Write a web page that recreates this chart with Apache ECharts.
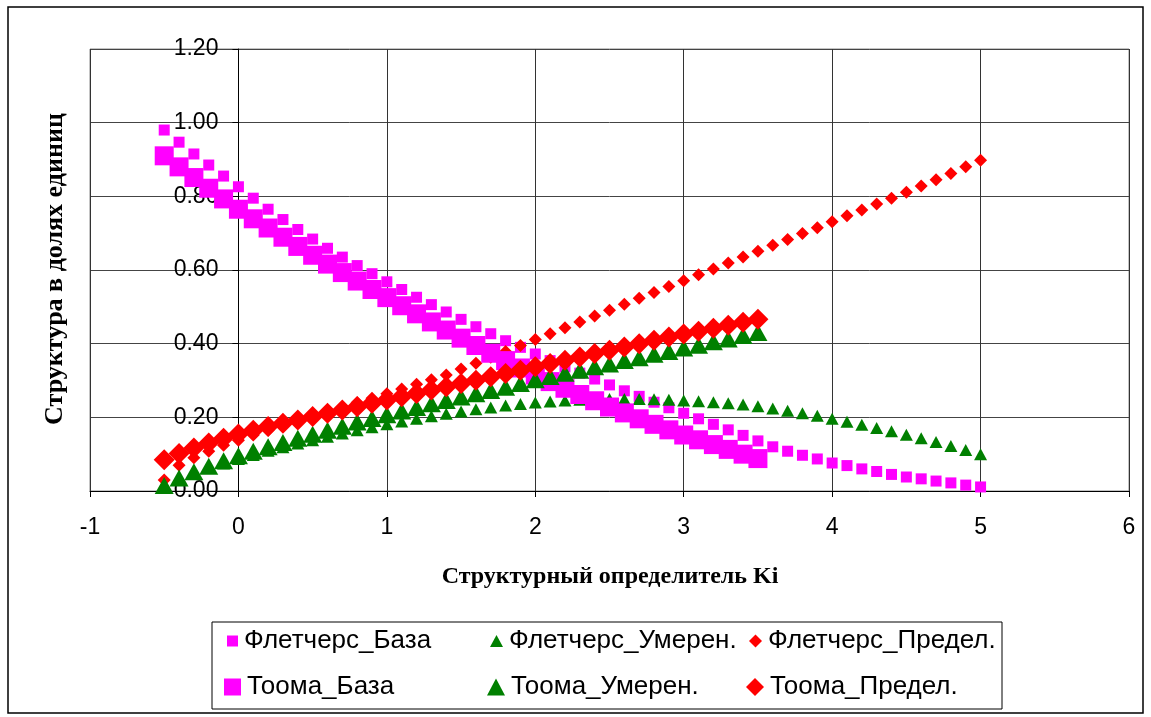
<!DOCTYPE html>
<html>
<head>
<meta charset="utf-8">
<script src="https://cdn.jsdelivr.net/npm/echarts@6/dist/echarts.min.js"></script>
<style>
  html, body { margin: 0; padding: 0; background: #fff; }
  #chart { width: 1151px; height: 717px; }
</style>
</head>
<body>
<div id="chart"></div>
<script>
// Ki values (x)
const kiFletcher = [-0.5, -0.4, -0.3, -0.2, -0.1, 0.0, 0.1, 0.2, 0.3, 0.4, 0.5, 0.6, 0.7, 0.8, 0.9,
  1.0, 1.1, 1.2, 1.3, 1.4, 1.5, 1.6, 1.7, 1.8, 1.9, 2.0, 2.1, 2.2, 2.3, 2.4, 2.5, 2.6, 2.7, 2.8, 2.9,
  3.0, 3.1, 3.2, 3.3, 3.4, 3.5, 3.6, 3.7, 3.8, 3.9, 4.0, 4.1, 4.2, 4.3, 4.4, 4.5, 4.6, 4.7, 4.8, 4.9, 5.0]
const kiTooma = [-0.5, -0.4, -0.3, -0.2, -0.1, 0.0, 0.1, 0.2, 0.3, 0.4, 0.5, 0.6, 0.7, 0.8, 0.9,
  1.0, 1.1, 1.2, 1.3, 1.4, 1.5, 1.6, 1.7, 1.8, 1.9, 2.0, 2.1, 2.2, 2.3, 2.4, 2.5, 2.6, 2.7, 2.8, 2.9,
  3.0, 3.1, 3.2, 3.3, 3.4, 3.5]

// Флетчерс
const fletcherBase = [0.980, 0.947, 0.915, 0.885, 0.855, 0.826, 0.795, 0.765, 0.737, 0.710, 0.684, 0.659, 0.635, 0.612, 0.590,
  0.568, 0.547, 0.526, 0.506, 0.486, 0.466, 0.446, 0.427, 0.408, 0.390, 0.372, 0.354, 0.337, 0.320, 0.304,
  0.288, 0.272, 0.257, 0.241, 0.226, 0.211, 0.196, 0.181, 0.166, 0.151, 0.136, 0.120, 0.108, 0.097, 0.087,
  0.076, 0.069, 0.060, 0.053, 0.045, 0.038, 0.033, 0.027, 0.022, 0.016, 0.011]
const fletcherModerate = [0.020, 0.036, 0.050, 0.063, 0.075, 0.087, 0.098, 0.109, 0.119, 0.129, 0.138, 0.147, 0.156, 0.165, 0.173,
  0.181, 0.189, 0.196, 0.203, 0.210, 0.216, 0.222, 0.227, 0.232, 0.236, 0.240, 0.243, 0.246, 0.248, 0.249,
  0.250, 0.250, 0.250, 0.249, 0.248, 0.246, 0.244, 0.241, 0.238, 0.235, 0.230, 0.224, 0.218, 0.211, 0.204,
  0.196, 0.188, 0.180, 0.171, 0.162, 0.153, 0.143, 0.133, 0.122, 0.111, 0.100]
const fletcherLimit = [0.030, 0.070, 0.090, 0.108, 0.124, 0.138, 0.152, 0.165, 0.178, 0.191, 0.204, 0.216, 0.228, 0.240, 0.252,
  0.264, 0.277, 0.290, 0.302, 0.315, 0.331, 0.347, 0.363, 0.379, 0.395, 0.411, 0.427, 0.443, 0.459, 0.475,
  0.491, 0.507, 0.523, 0.539, 0.555, 0.571, 0.587, 0.603, 0.619, 0.635, 0.651, 0.667, 0.683, 0.699, 0.715,
  0.731, 0.747, 0.763, 0.779, 0.795, 0.811, 0.828, 0.845, 0.862, 0.880, 0.898]

// Тоома
const toomaBase = [0.910, 0.880, 0.851, 0.822, 0.793, 0.765, 0.739, 0.714, 0.689, 0.664, 0.640, 0.616, 0.593, 0.570, 0.547,
  0.525, 0.503, 0.481, 0.459, 0.437, 0.415, 0.395, 0.374, 0.354, 0.334, 0.315, 0.297, 0.279, 0.262, 0.245,
  0.228, 0.212, 0.196, 0.181, 0.166, 0.152, 0.139, 0.126, 0.113, 0.100, 0.088]
const toomaModerate = [0.015, 0.035, 0.052, 0.067, 0.082, 0.096, 0.108, 0.120, 0.132, 0.143, 0.154, 0.165, 0.176, 0.187, 0.197,
  0.207, 0.217, 0.227, 0.237, 0.246, 0.255, 0.264, 0.273, 0.282, 0.292, 0.302, 0.311, 0.320, 0.328, 0.337,
  0.345, 0.354, 0.362, 0.371, 0.379, 0.388, 0.396, 0.405, 0.413, 0.422, 0.430]
const toomaLimit = [0.085, 0.102, 0.117, 0.130, 0.143, 0.155, 0.165, 0.175, 0.184, 0.193, 0.202, 0.211, 0.220, 0.229, 0.238,
  0.247, 0.256, 0.265, 0.274, 0.283, 0.292, 0.301, 0.310, 0.319, 0.328, 0.337, 0.346, 0.355, 0.364, 0.373,
  0.382, 0.391, 0.400, 0.409, 0.418, 0.426, 0.434, 0.442, 0.450, 0.458, 0.466]

const seriesNames = ['Флетчерс_База', 'Флетчерс_Умерен.', 'Флетчерс_Предел.', 'Тоома_База', 'Тоома_Умерен.', 'Тоома_Предел.']

const MAGENTA = '#ff00ff'
const GREEN = '#008000'
const RED = '#ff0000'
const FONT = "'Liberation Sans', Arial, sans-serif"
const SERIF = "'Liberation Serif', 'Times New Roman', serif"

// plot area, px
const GRID_LEFT = 90
const GRID_RIGHT = 22
const X_MIN = -1
const X_MAX = 6
const plotWidth = 1151 - GRID_LEFT - GRID_RIGHT

const pairs = (xs, ys) => xs.map((x, i) => [x, ys[i]])

const chart = echarts.init(document.getElementById('chart'))

const makeSeries = (name, xs, ys, symbol, size, color) => ({
  name,
  type: 'scatter',
  symbol,
  symbolSize: size,
  data: pairs(xs, ys),
  itemStyle: { color, opacity: 1 },
  emphasis: { disabled: true }
})

const legendItem = (name, left, top, icon, w, h) => ({
  data: [name],
  left,
  top,
  icon,
  itemWidth: w,
  itemHeight: h,
  selectedMode: false,
  padding: 0,
  textStyle: { fontFamily: FONT, fontSize: 26, color: '#000', lineHeight: 30, padding: [0, 0, 0, 1] }
})

const option = {
  animation: false,
  backgroundColor: '#fff',
  grid: {
    left: GRID_LEFT,
    right: GRID_RIGHT,
    top: 49,
    bottom: 226,
    show: true,
    borderColor: '#888',
    borderWidth: 1
  },
  xAxis: {
    type: 'value',
    min: X_MIN,
    max: X_MAX,
    interval: 1,
    axisLine: { onZero: false, lineStyle: { color: '#000', width: 1 } },
    axisTick: { show: true, length: 6, lineStyle: { color: '#000' } },
    axisLabel: { color: '#000', fontFamily: FONT, fontSize: 23, margin: 25 },
    splitLine: { show: true, lineStyle: { color: '#333', width: 1 } }
  },
  yAxis: {
    type: 'value',
    min: 0,
    max: 1.2,
    interval: 0.2,
    // y axis crosses the x axis at Ki = 0
    offset: -plotWidth * (0 - X_MIN) / (X_MAX - X_MIN),
    axisLine: { onZero: false, lineStyle: { color: '#000', width: 1 } },
    axisTick: { show: true, length: 6, lineStyle: { color: '#000' } },
    axisLabel: {
      color: '#000', fontFamily: FONT, fontSize: 23, margin: 20,
      formatter: v => v.toFixed(2)
    },
    splitLine: { show: true, lineStyle: { color: '#444', width: 1 } }
  },
  legend: [
    legendItem(seriesNames[0], 227, 626, 'rect', 11, 11),
    legendItem(seriesNames[1], 490, 626, 'triangle', 13, 12),
    legendItem(seriesNames[2], 749, 626, 'diamond', 13, 13),
    legendItem(seriesNames[3], 224, 672, 'rect', 17, 17),
    legendItem(seriesNames[4], 487, 672, 'triangle', 18, 17),
    legendItem(seriesNames[5], 746, 672, 'diamond', 18, 18)
  ],
  graphic: [
    {
      type: 'rect',
      shape: { x: 8, y: 7, width: 1135, height: 706 },
      style: { fill: 'none', stroke: '#000', lineWidth: 1.5 },
      silent: true
    },
    {
      type: 'rect',
      shape: { x: 212, y: 622, width: 790, height: 87 },
      style: { fill: 'none', stroke: '#000', lineWidth: 1 },
      silent: true
    },
    {
      type: 'text',
      x: 55,
      y: 269,
      rotation: Math.PI / 2,
      style: {
        text: 'Структура в долях единиц',
        font: 'bold 26px ' + SERIF,
        fill: '#000',
        align: 'center',
        verticalAlign: 'middle'
      },
      silent: true
    },
    {
      type: 'text',
      x: 610,
      y: 577,
      style: {
        text: 'Структурный определитель Ki',
        font: 'bold 24px ' + SERIF,
        fill: '#000',
        align: 'center',
        verticalAlign: 'middle'
      },
      silent: true
    }
  ],
  series: [
    makeSeries(seriesNames[0], kiFletcher, fletcherBase, 'rect', 11, MAGENTA),
    makeSeries(seriesNames[1], kiFletcher, fletcherModerate, 'triangle', [13, 12], GREEN),
    makeSeries(seriesNames[2], kiFletcher, fletcherLimit, 'diamond', 13, RED),
    makeSeries(seriesNames[3], kiTooma, toomaBase, 'rect', 19, MAGENTA),
    makeSeries(seriesNames[4], kiTooma, toomaModerate, 'triangle', [19, 17], GREEN),
    makeSeries(seriesNames[5], kiTooma, toomaLimit, 'diamond', 21, RED)
  ]
}

chart.setOption(option)
window.addEventListener('resize', () => chart.resize())
</script>
</body>
</html>
